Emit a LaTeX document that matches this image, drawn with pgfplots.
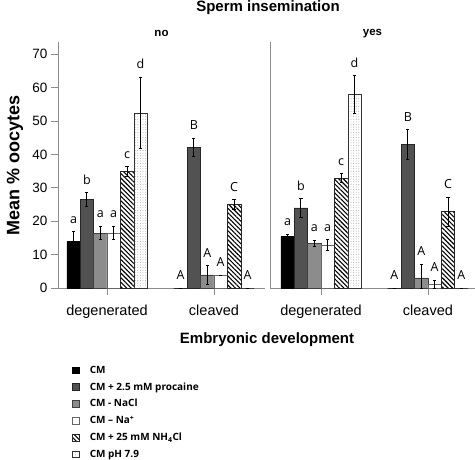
\documentclass[border=0pt]{standalone}
\usepackage{pgfplots}
\pgfplotsset{compat=1.18}
\usepackage{pgfplotstable}
\usepackage{fontspec}
\setmainfont{Liberation Sans}
\newfontfamily\osans{Open Sans}
\usetikzlibrary{patterns.meta}

% panel "no"
\pgfplotstableread{
x y1 p1 m1 l1 y2 p2 m2 l2 y3 p3 m3 l3 y4 p4 m4 l4 y5 p5 m5 l5 y6 p6 m6 l6
0 14.0 2.8 2.8 a 26.5 2.0 2.1 b 16.4 2.1 2.0 a 16.4 2.1 2.0 a 34.9 1.4 1.4 c 52.5 10.7 10.6 d
1 0.0 0 0 A 42.1 2.8 2.8 B 3.9 2.8 2.9 A 3.9 0 0 A 25.0 1.4 1.4 C 0.0 0 0 A
}\tno
% panel "yes"
\pgfplotstableread{
x y1 p1 m1 l1 y2 p2 m2 l2 y3 p3 m3 l3 y4 p4 m4 l4 y5 p5 m5 l5 y6 p6 m6 l6
0 15.4 0.7 0.6 a 24.0 2.8 2.9 b 13.3 1.0 0.8 a 12.9 1.6 1.7 a 32.9 1.3 1.2 c 58.0 5.6 5.7 d
1 0.0 0 0 A 43.0 4.4 4.5 B 3.0 4.2 3.0 A 1.0 1.4 1.0 A 23.0 4.2 4.5 C 0.0 0 0 A
}\tyes

\pgfplotsset{
  s1/.style={fill=black, draw=black, line width=0.5pt},
  s2/.style={fill=black!68, draw=black!85, line width=0.5pt},
  s3/.style={fill=black!45, draw=black!75, line width=0.5pt},
  s4/.style={fill=white, draw=black!60, line width=0.5pt},
  s5/.style={fill=white, draw=black!85, line width=0.5pt,
     postaction={pattern={Lines[angle=-45,distance=3.2pt,line width=1.1pt]}}},
  s6/.style={fill=white, draw=black!80, line width=0.5pt,
     postaction={pattern={Dots[distance=2.6pt,radius=0.45pt]}, pattern color=black!40}},
  eb/.style={/pgfplots/error bars/y dir=both, /pgfplots/error bars/y explicit,
     /pgfplots/error bars/error bar style={line width=0.9pt, black, solid},
     /pgfplots/error bars/error mark options={rotate=90, mark size=1.6pt, line width=0.9pt, black, solid}},
  lab/.style={/pgfplots/nodes near coords, /pgfplots/point meta=explicit symbolic,
     /pgfplots/visualization depends on={\thisrow{#1}\as\ep},
     /pgfplots/every node near coord/.append style={anchor=south, inner sep=0pt, yshift=8pt,
        shift={(axis direction cs:0,\ep)}, font=\osans\fontsize{12.5}{12.5}\selectfont, text=black}},
  common/.style={
    scale only axis, height=246pt,
    ymin=0, ymax=73.7, enlargelimits=false,
    ybar=0pt, bar width=13.4pt,
    axis lines=left,
    axis line style={-, black!45, line width=0.8pt},
    tick style={black!45, line width=0.8pt},
    tick align=outside, major tick length=7pt,
    xtick={0,1}, xticklabels={degenerated,cleaved},
    x tick label style={font=\fontsize{14.5}{16}\selectfont, yshift=-6pt},
    y tick label style={font=\fontsize{13.5}{16}\selectfont},
    /pgf/number format/assume math mode=true,
    clip=false,
    every axis title shift=0pt,
    title style={font=\bfseries\fontsize{11.5}{12}\selectfont, at={(axis description cs:0.5,1.035)}, anchor=center},
  },
}

\begin{document}
\begin{tikzpicture}
\useasboundingbox (0,0) rectangle (475pt,-460pt);

\begin{axis}[common,
  at={(58pt,-288pt)}, anchor=south west, width=207pt,
  xmin=-0.458, xmax=1.477,
  ytick={0,10,...,70},
  title={no},
  ylabel={Mean \% oocytes},
  ylabel style={font=\bfseries\fontsize{18}{20}\selectfont, at={(axis description cs:-0.208,0.5)}, anchor=center},
  xlabel={Embryonic development},
  xlabel style={font=\bfseries\fontsize{15}{17}\selectfont, at={(axis description cs:1.01,-0.21)}, anchor=center},
  legend cell align=left,
  legend image code/.code={\draw[#1] (0pt,-3.3pt) rectangle (6.6pt,3.3pt); \path (15pt,0pt);},
  legend style={draw=none, fill=none, at={(axis description cs:0.068,-0.308)}, anchor=north west,
     font=\osans\bfseries\fontsize{10}{12}\selectfont, row sep=3.7pt, inner sep=0pt},
]
\addplot[s1, eb, lab=p1] table[x=x, y=y1, y error plus=p1, y error minus=m1, meta=l1]{\tno};
\addlegendentry{CM}
\addplot[s2, eb, lab=p2] table[x=x, y=y2, y error plus=p2, y error minus=m2, meta=l2]{\tno};
\addlegendentry{CM + 2.5 mM procaine}
\addplot[s3, eb, lab=p3] table[x=x, y=y3, y error plus=p3, y error minus=m3, meta=l3]{\tno};
\addlegendentry{CM - NaCl}
\addplot[s4, eb, lab=p4] table[x=x, y=y4, y error plus=p4, y error minus=m4, meta=l4]{\tno};
\addlegendentry{CM – Na\textsuperscript{+}}
\addplot[s5, eb, lab=p5] table[x=x, y=y5, y error plus=p5, y error minus=m5, meta=l5]{\tno};
\addlegendentry{CM + 25 mM NH\textsubscript{4}Cl}
\addplot[s6, eb, lab=p6] table[x=x, y=y6, y error plus=p6, y error minus=m6, meta=l6]{\tno};
\addlegendentry{CM pH 7.9}
\node[font=\bfseries\fontsize{15}{17}\selectfont] at (rel axis cs:1.0145,1.138) {Sperm insemination};
\end{axis}

\begin{axis}[common,
  at={(270pt,-288pt)}, anchor=south west, width=205pt,
  xmin=-0.477, xmax=1.44,
  ytick=\empty,
  title={yes},
]
\addplot[s1, eb, lab=p1] table[x=x, y=y1, y error plus=p1, y error minus=m1, meta=l1]{\tyes};
\addplot[s2, eb, lab=p2] table[x=x, y=y2, y error plus=p2, y error minus=m2, meta=l2]{\tyes};
\addplot[s3, eb, lab=p3] table[x=x, y=y3, y error plus=p3, y error minus=m3, meta=l3]{\tyes};
\addplot[s4, eb, lab=p4] table[x=x, y=y4, y error plus=p4, y error minus=m4, meta=l4]{\tyes};
\addplot[s5, eb, lab=p5] table[x=x, y=y5, y error plus=p5, y error minus=m5, meta=l5]{\tyes};
\addplot[s6, eb, lab=p6] table[x=x, y=y6, y error plus=p6, y error minus=m6, meta=l6]{\tyes};
\end{axis}
\end{tikzpicture}
\end{document}
